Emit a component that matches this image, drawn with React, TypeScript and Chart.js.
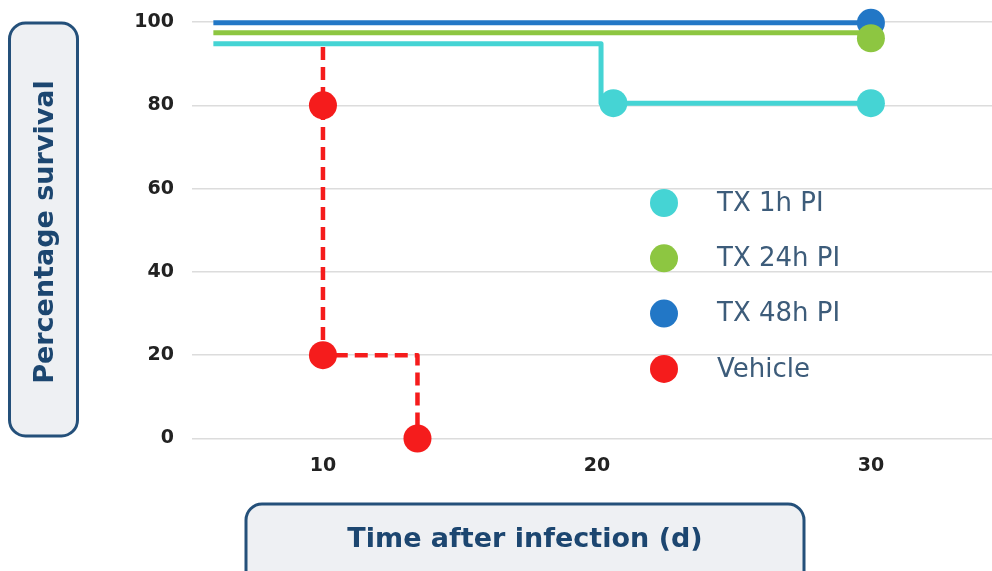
import React, { useEffect, useRef } from "react";
import { Chart, registerables } from "chart.js";

Chart.register(...registerables);

// ---- data ----
const seriesLabels = ["TX 1h PI", "TX 24h PI", "TX 48h PI", "Vehicle"];
const tx1hDays = [6, 20.15, 20.15, 20.6, 30];
const tx1hSurvival = [94.8, 94.8, 80.5, 80.5, 80.5];
const tx1hMarks = [false, false, false, true, true];
const tx24hDays = [6, 30, 30];
const tx24hSurvival = [97.4, 97.4, 96.1];
const tx24hMarks = [false, false, true];
const tx48hDays = [6, 30];
const tx48hSurvival = [99.8, 99.8];
const tx48hMarks = [false, true];
const vehicleDays = [10, 10, 10, 13.45, 13.45];
const vehicleSurvival = [94, 80, 20, 20, 0];
const vehicleMarks = [false, true, true, false, true];
const xTicks = [10, 20, 30];
const yTicks = [0, 20, 40, 60, 80, 100];
const xTitle = "Time after infection (d)";
const yTitle = "Percentage survival";

// ---- styles ----
const seriesColors = ["#45d4d4", "#8dc641", "#2277c6", "#f51c1c"];
const W = 992;
const H = 571;
const FONT = "'DejaVu Sans', 'Noto Sans', sans-serif";
const NAVY = "#1c4670";

function makeSeries(days: number[], vals: number[]) {
  return days.map((d, i) => ({ x: d, y: vals[i] }));
}

function rrect(ctx: CanvasRenderingContext2D, x: number, y: number, w: number, h: number, r: number) {
  ctx.beginPath();
  ctx.moveTo(x + r, y);
  ctx.lineTo(x + w - r, y);
  ctx.arcTo(x + w, y, x + w, y + r, r);
  ctx.lineTo(x + w, y + h - r);
  ctx.arcTo(x + w, y + h, x + w - r, y + h, r);
  ctx.lineTo(x + r, y + h);
  ctx.arcTo(x, y + h, x, y + h - r, r);
  ctx.lineTo(x, y + r);
  ctx.arcTo(x, y, x + r, y, r);
  ctx.closePath();
}

const decorPlugin = {
  id: "decor",
  beforeDraw(chart: any) {
    const ctx = chart.ctx;
    ctx.save();
    ctx.fillStyle = "#ffffff";
    ctx.fillRect(0, 0, chart.width, chart.height);
    ctx.restore();
  },
  afterDraw(chart: any) {
    const ctx: CanvasRenderingContext2D = chart.ctx;
    ctx.save();
    // y title box
    rrect(ctx, 9.5, 23, 68, 413, 16);
    ctx.fillStyle = "#eef0f3";
    ctx.fill();
    ctx.lineWidth = 3;
    ctx.strokeStyle = "#24507a";
    ctx.stroke();
    // x title box
    rrect(ctx, 246, 504, 558, 90, 16);
    ctx.fill();
    ctx.stroke();

    ctx.fillStyle = NAVY;
    ctx.font = `bold 27px ${FONT}`;
    ctx.textAlign = "center";
    ctx.textBaseline = "middle";
    ctx.fillText(xTitle, 525, 540);
    ctx.save();
    ctx.translate(46, 232);
    ctx.rotate(-Math.PI / 2);
    ctx.fillText(yTitle, 0, 0);
    ctx.restore();

    // legend
    ctx.textAlign = "left";
    ctx.font = `26px ${FONT}`;
    chart.data.datasets.forEach((ds: any, i: number) => {
      const cy = 203 + i * 55.3;
      ctx.beginPath();
      ctx.arc(664, cy, 14, 0, Math.PI * 2);
      ctx.fillStyle = ds.borderColor;
      ctx.fill();
      ctx.fillStyle = "#3d5c7a";
      ctx.fillText(ds.label, 717, cy + 1);
    });
    ctx.restore();
  },
};

export default function App() {
  const ref = useRef<HTMLCanvasElement | null>(null);

  useEffect(() => {
    if (!ref.current) return;
    const markRadius = (marks: boolean[]) => (c: any) => (marks[c.dataIndex] ? 14 : 0);
    const mk = (i: number, days: number[], vals: number[], marks: boolean[], extra: any = {}) => ({
      label: seriesLabels[i],
      data: makeSeries(days, vals),
      borderColor: seriesColors[i],
      backgroundColor: seriesColors[i],
      pointBackgroundColor: seriesColors[i],
      pointBorderWidth: 0,
      pointRadius: markRadius(marks),
      pointHoverRadius: markRadius(marks),
      borderWidth: 5,
      borderJoinStyle: "round",
      tension: 0,
      clip: false,
      fill: false,
      ...extra,
    });

    const chart = new Chart(ref.current, {
      type: "line",
      data: {
        datasets: [
          mk(0, tx1hDays, tx1hSurvival, tx1hMarks),
          mk(1, tx24hDays, tx24hSurvival, tx24hMarks),
          mk(2, tx48hDays, tx48hSurvival, tx48hMarks),
          mk(3, vehicleDays, vehicleSurvival, vehicleMarks, { borderDash: [13, 7], borderWidth: 4.5 }),
        ] as any,
      },
      options: {
        responsive: false,
        animation: false,
        devicePixelRatio: 1,
        layout: { autoPadding: false, padding: { top: 22, right: 0, left: 0, bottom: 0 } },
        plugins: {
          legend: { display: false },
          tooltip: { enabled: false },
        },
        scales: {
          x: {
            type: "linear",
            min: 5.22,
            max: 34.42,
            afterBuildTicks: (s: any) => {
              s.ticks = xTicks.map((v) => ({ value: v }));
            },
            afterFit: (s: any) => {
              s.height = 132.5;
              s.paddingLeft = 0;
              s.paddingRight = 0;
            },
            grid: { display: false, drawTicks: false },
            border: { display: false },
            ticks: {
              padding: 16,
              color: "#222222",
              font: { family: FONT, weight: "bold", size: 19 },
            },
          },
          y: {
            type: "linear",
            min: 0,
            max: 100,
            afterBuildTicks: (s: any) => {
              s.ticks = yTicks.map((v) => ({ value: v }));
            },
            afterFit: (s: any) => {
              s.width = 192;
              s.paddingTop = 0;
              s.paddingBottom = 0;
            },
            grid: { color: "#dcdcdc", lineWidth: 1.5, drawTicks: false },
            border: { display: false },
            ticks: {
              padding: 18,
              color: "#222222",
              font: { family: FONT, weight: "bold", size: 19 },
            },
          },
        },
      },
      plugins: [decorPlugin],
    } as any);

    return () => chart.destroy();
  }, []);

  return (
    <div style={{ position: "fixed", left: 0, top: 0, width: W, height: H, background: "#fff" }}>
      <canvas ref={ref} width={W} height={H} style={{ width: W, height: H, display: "block" }} />
    </div>
  );
}
